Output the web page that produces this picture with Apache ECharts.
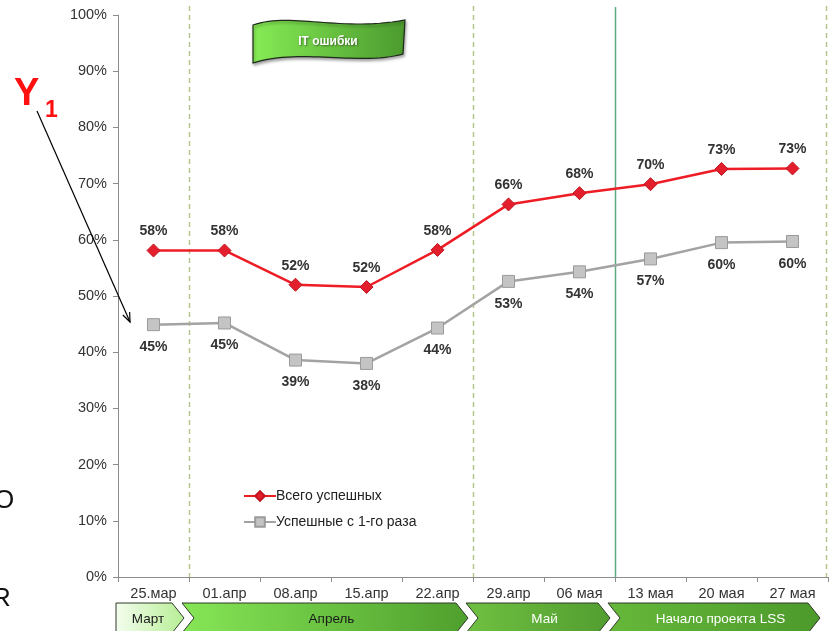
<!DOCTYPE html>
<html>
<head>
<meta charset="utf-8">
<script src="https://cdn.jsdelivr.net/npm/echarts@6/dist/echarts.min.js"></script>
<style>
  html, body { margin: 0; padding: 0; background: #fff; }
  #chart { width: 831px; height: 631px; }
</style>
</head>
<body>
<div id="chart"></div>
<script>
// Weekly reporting dates
const categories = ['25.мар', '01.апр', '08.апр', '15.апр', '22.апр', '29.апр', '06 мая', '13 мая', '20 мая', '27 мая'];

// Share of successful runs, %
const totalSuccess = [58.1, 58.1, 52.0, 51.6, 58.2, 66.3, 68.3, 69.9, 72.6, 72.7];
const firstTimeSuccess = [44.9, 45.2, 38.6, 38.0, 44.3, 52.6, 54.3, 56.6, 59.5, 59.7];

const seriesNames = ['Всего успешных', 'Успешные с 1-го раза'];

// Y axis ticks
const yTicks = [0, 10, 20, 30, 40, 50, 60, 70, 80, 90, 100];

// Period bands under the axis: name, first and last category index
const phaseNames = ['Март', 'Апрель', 'Май', 'Начало проекта LSS'];
const phaseStart = [0, 1, 5, 7];
const phaseEnd = [0, 4, 6, 9];

const FONT = '"Liberation Sans", Arial, sans-serif';

const chart = echarts.init(document.getElementById('chart'), null, { renderer: 'canvas' });

function valueLabel(position, distance) {
  return {
    show: true,
    position: position,
    distance: distance,
    fontFamily: FONT,
    fontSize: 14,
    fontWeight: 'bold',
    color: '#333333',
    formatter: p => Math.round(p.value) + '%'
  };
}

chart.setOption({
  animation: false,
  backgroundColor: '#ffffff',
  grid: { left: 118, right: 3, top: 15, bottom: 54, containLabel: false },
  legend: {
    orient: 'vertical',
    left: 238,
    top: 484,
    itemGap: 12,
    itemWidth: 32,
    itemHeight: 12,
    textStyle: { fontFamily: FONT, fontSize: 14, color: '#222222', padding: [0, 0, 0, -5] },
    data: seriesNames
  },
  xAxis: {
    type: 'category',
    data: categories,
    boundaryGap: true,
    axisLine: { lineStyle: { color: '#8c8c8c', width: 1 } },
    axisTick: { show: true, alignWithLabel: false, length: 5, lineStyle: { color: '#8c8c8c' } },
    axisLabel: { fontFamily: FONT, fontSize: 14.5, color: '#333333', margin: 9 },
    splitLine: { show: false }
  },
  yAxis: {
    type: 'value',
    min: yTicks[0],
    max: yTicks[yTicks.length - 1],
    interval: 10,
    axisLine: { show: true, lineStyle: { color: '#8c8c8c', width: 1 } },
    axisTick: { show: true, length: 5, lineStyle: { color: '#8c8c8c' } },
    axisLabel: { fontFamily: FONT, fontSize: 14.5, color: '#333333', margin: 11, formatter: '{value}%' },
    splitLine: { show: false }
  },
  series: [
    {
      name: seriesNames[0],
      type: 'line',
      data: totalSuccess,
      symbol: 'diamond',
      symbolSize: 13,
      z: 4,
      lineStyle: { color: '#ee1c25', width: 2.5 },
      itemStyle: { color: '#e31e2d', borderColor: '#c0161f', borderWidth: 1 },
      label: valueLabel('top', 5)
    },
    {
      name: seriesNames[1],
      type: 'line',
      data: firstTimeSuccess,
      symbol: 'rect',
      symbolSize: 12,
      z: 3,
      lineStyle: { color: '#a3a3a3', width: 2.5 },
      itemStyle: { color: '#c4c4c4', borderColor: '#9a9a9a', borderWidth: 1 },
      label: valueLabel('bottom', 9)
    }
  ]
});

// Pixel helpers based on the category axis
function centerX(i) { return chart.convertToPixel({ xAxisIndex: 0 }, i); }
const step = centerX(1) - centerX(0);
function boundaryX(i) { return centerX(i) - step / 2; }   // left edge of category i
const yZero = chart.convertToPixel({ yAxisIndex: 0 }, 0);
const yTop = chart.convertToPixel({ yAxisIndex: 0 }, 100);

const graphics = [];

// Period separators
[1, 5, 10].forEach(i => {
  const x = Math.round(boundaryX(i)) - (i === 10 ? 2 : 0) + 0.5;
  graphics.push({
    type: 'line', z: 1, silent: true,
    shape: { x1: x, y1: yTop - 9, x2: x, y2: yZero },
    style: { stroke: '#b2c68a', lineWidth: 1.5, lineDash: [5, 4] }
  });
});
{
  const x = Math.round(boundaryX(7)) + 0.5;
  graphics.push({
    type: 'line', z: 1, silent: true,
    shape: { x1: x, y1: yTop - 8, x2: x, y2: yZero },
    style: { stroke: '#5dab7f', lineWidth: 1.5 }
  });
}

// Period chevrons below the axis labels
const bandTop = 603, bandBottom = 633, bandMid = (bandTop + bandBottom) / 2;
const phaseFill = [
  ['#f4fdee', '#b6ee94'],
  ['#86e656', '#4f9f2d'],
  ['#6fc041', '#529d30'],
  ['#66b83a', '#4c9a2b']
];
const phaseText = ['#1a1a1a', '#1a1a1a', '#ffffff', '#ffffff'];
phaseNames.forEach((name, k) => {
  const xl = boundaryX(phaseStart[k]);
  const xr = boundaryX(phaseEnd[k] + 1);
  const tip = k === phaseNames.length - 1 ? xr - 8 : xr - 5;
  const pts = [];
  if (k === 0) {
    pts.push([xl - 2, bandTop], [tip - 12, bandTop], [tip, bandMid], [tip - 12, bandBottom], [xl - 2, bandBottom]);
  } else {
    const l = xl - 7;
    pts.push([l, bandTop], [tip - 12, bandTop], [tip, bandMid], [tip - 12, bandBottom], [l, bandBottom], [l + 12, bandMid]);
  }
  graphics.push({
    type: 'polygon', z: 2, silent: true,
    shape: { points: pts },
    style: {
      fill: new echarts.graphic.LinearGradient(0, 0, 1, 0, [
        { offset: 0, color: phaseFill[k][0] },
        { offset: 1, color: phaseFill[k][1] }
      ]),
      stroke: '#2f3a2a', lineWidth: 1
    }
  });
  graphics.push({
    type: 'text', z: 3, silent: true,
    x: k === 0 ? (xl + tip) / 2 - 3 : (xl + tip) / 2 + 3, y: bandMid + 1,
    style: { text: name, fontFamily: FONT, fontSize: 13.5, fill: phaseText[k], align: 'center', verticalAlign: 'middle' }
  });
});

// Title flag: wavy outline built from cubic segments
function cubicPoints(p0, p1, p2, p3, n) {
  const out = [];
  for (let s = 0; s <= n; s++) {
    const t = s / n, u = 1 - t;
    out.push([
      u * u * u * p0[0] + 3 * u * u * t * p1[0] + 3 * u * t * t * p2[0] + t * t * t * p3[0],
      u * u * u * p0[1] + 3 * u * u * t * p1[1] + 3 * u * t * t * p2[1] + t * t * t * p3[1]
    ]);
  }
  return out;
}
const flagPts = []
  .concat(cubicPoints([253, 25], [290, 12], [340, 32], [405, 20], 30))
  .concat(cubicPoints([403, 54], [360, 66], [300, 48], [253, 63], 30));
graphics.push({
  type: 'polygon', z: 5, silent: true,
  shape: { points: flagPts },
  style: {
    fill: new echarts.graphic.LinearGradient(0, 0, 1, 0, [
      { offset: 0, color: '#86ec55' },
      { offset: 1, color: '#4b9a2e' }
    ]),
    stroke: '#1f2a1a', lineWidth: 1.2,
    shadowBlur: 3, shadowColor: 'rgba(0,0,0,0.35)', shadowOffsetX: 1, shadowOffsetY: 2
  }
});
graphics.push({
  type: 'text', z: 6, silent: true,
  x: 328, y: 42,
  style: {
    text: 'IT ошибки', fontFamily: FONT, fontSize: 12, fontWeight: 'bold', fill: '#ffffff',
    align: 'center', verticalAlign: 'middle',
    textShadowColor: 'rgba(0,0,0,0.45)', textShadowBlur: 2, textShadowOffsetX: 1, textShadowOffsetY: 1
  }
});

// Y1 callout with arrow to the first-time series
graphics.push({
  type: 'text', z: 6, silent: true, x: 14, y: 76,
  style: { text: 'Y', fontFamily: FONT, fontSize: 38, fontWeight: 'bold', fill: '#ff1010' }
});
graphics.push({
  type: 'text', z: 6, silent: true, x: 45, y: 99,
  style: { text: '1', fontFamily: FONT, fontSize: 23, fontWeight: 'bold', fill: '#ff1010' }
});
{
  const x1 = 37, y1 = 111;
  const x2 = 130, y2 = 322;
  const ang = Math.atan2(y2 - y1, x2 - x1);
  const ah = 10, aw = 0.38;
  graphics.push({
    type: 'line', z: 6, silent: true,
    shape: { x1, y1, x2, y2 },
    style: { stroke: '#000000', lineWidth: 1.2 }
  });
  graphics.push({
    type: 'polyline', z: 6, silent: true,
    shape: { points: [
      [x2 - ah * Math.cos(ang - aw), y2 - ah * Math.sin(ang - aw)],
      [x2, y2],
      [x2 - ah * Math.cos(ang + aw), y2 - ah * Math.sin(ang + aw)]
    ] },
    style: { stroke: '#000000', lineWidth: 1.2, fill: null }
  });
}

// Letters continuing from the neighbouring slide column
graphics.push({
  type: 'text', z: 6, silent: true, x: -6, y: 488,
  style: { text: 'О', fontFamily: FONT, fontSize: 26, fill: '#111111' }
});
graphics.push({
  type: 'text', z: 6, silent: true, x: -8, y: 586,
  style: { text: 'R', fontFamily: FONT, fontSize: 26, fill: '#111111' }
});

chart.setOption({ graphic: graphics });
</script>
</body>
</html>
